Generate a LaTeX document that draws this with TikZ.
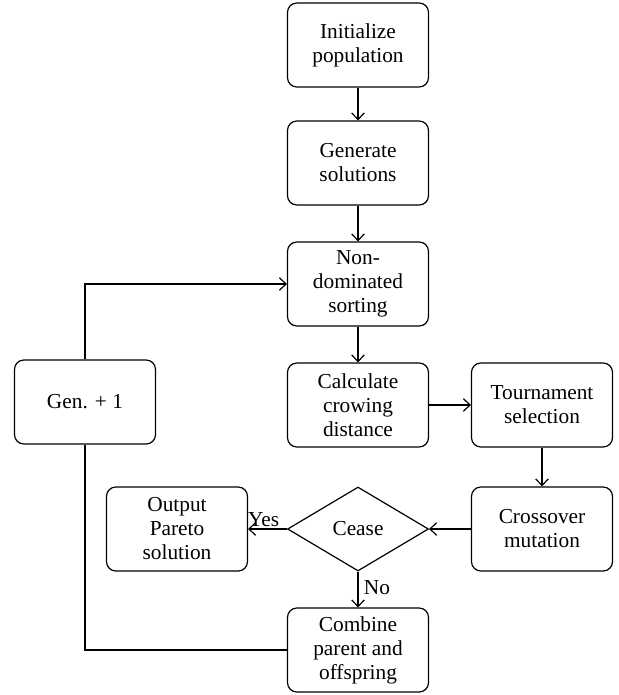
\documentclass[tikz,border=0pt]{standalone}
\usepackage{fontspec}
\setmainfont{Liberation Serif}
\usetikzlibrary{shapes.geometric,arrows.meta}
\begin{document}
\begin{tikzpicture}[x=0.75pt,y=-0.75pt,
  every node/.style={font=\fontsize{16pt}{18pt}\selectfont},
  box/.style={draw,line width=0.9pt,rounded corners=7pt,minimum width=105.75pt,minimum height=63pt,align=center,inner sep=2pt},
  dia/.style={draw,line width=0.9pt,diamond,aspect=1.68,minimum width=105.75pt,minimum height=63pt,inner sep=0pt},
  arr/.style={line width=0.9pt,-{Straight Barb[length=5pt,width=9.5pt]}},
  ln/.style={line width=0.9pt},
  lab/.style={inner sep=1pt}]
\useasboundingbox (0,0) rectangle (618,695);
\node[box] (init) at (358,45) {Initialize\\population};
\node[box] (gen) at (358,163) {Generate\\solutions};
\node[box] (nds) at (358,284) {Non-\\dominated\\sorting};
\node[box] (calc) at (358,405) {Calculate\\crowing\\distance};
\node[box] (tour) at (542,405) {Tournament\\selection};
\node[box] (cross) at (542,529) {Crossover\\mutation};
\node[dia] (cease) at (358,529) {Cease};
\node[box] (out) at (177,529) {Output\\Pareto\\solution};
\node[box] (comb) at (358,650) {Combine\\parent and\\offspring};
\node[box] (inc) at (85,402) {Gen. + 1};
\draw[arr] (init) -- (gen);
\draw[arr] (gen) -- (nds);
\draw[arr] (nds) -- (calc);
\draw[arr] (calc) -- (tour);
\draw[arr] (tour) -- (cross);
\draw[arr] (cross) -- (cease);
\draw[arr] (cease) -- node[lab,above,pos=0.6] {Yes} (out);
\draw[arr] (cease) -- node[lab,right,pos=0.45,xshift=3pt] {No} (comb);
\draw[ln] (comb.west) -| (inc.south);
\draw[arr] (inc.north) |- (nds.west);
\end{tikzpicture}
\end{document}
